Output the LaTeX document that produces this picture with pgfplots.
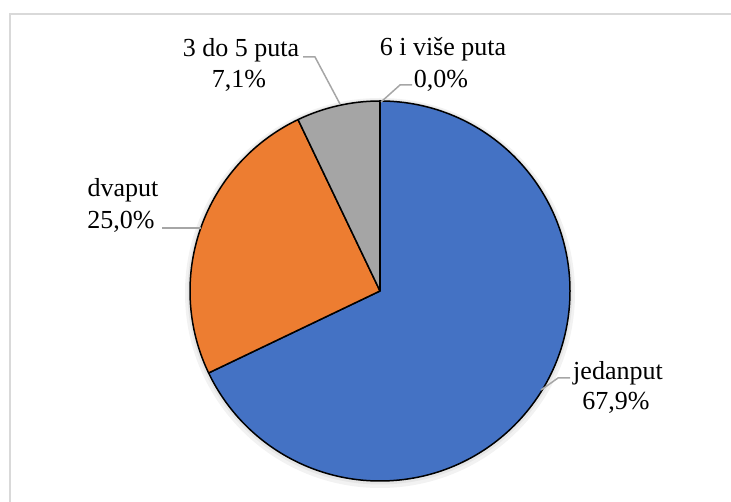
\documentclass[border=0pt]{standalone}
\usepackage{pgfplots}
\pgfplotsset{compat=1.18}
\usepackage{pgfplotstable}
\usepackage{fontspec}
\setmainfont{Liberation Serif}
\definecolor{pblue}{HTML}{4472C4}
\definecolor{porange}{HTML}{ED7D31}
\definecolor{pgray}{HTML}{A5A5A5}
\definecolor{lead}{HTML}{A6A6A6}
\definecolor{frame}{HTML}{D9D9D9}

\pgfplotstableread{
idx value
0 67.9
1 25.0
2 7.1
3 0.0
}\piedata
\pgfplotstablegetelem{0}{value}\of\piedata \pgfmathsetmacro\va{\pgfplotsretval}%
\pgfplotstablegetelem{1}{value}\of\piedata \pgfmathsetmacro\vb{\pgfplotsretval}%
\pgfplotstablegetelem{2}{value}\of\piedata \pgfmathsetmacro\vc{\pgfplotsretval}%
\pgfplotstablegetelem{3}{value}\of\piedata \pgfmathsetmacro\vd{\pgfplotsretval}%
\pgfmathsetmacro\aA{90}%
\pgfmathsetmacro\aB{\aA-3.6*\va}%
\pgfmathsetmacro\aC{\aB-3.6*\vb}%
\pgfmathsetmacro\aD{\aC-3.6*\vc}%
\pgfmathsetmacro\aE{\aD-3.6*\vd}%

\begin{document}
\begin{tikzpicture}
\begin{axis}[
  scale only axis, width=731pt, height=502pt,
  xmin=0, xmax=731, ymin=0, ymax=502,
  hide axis, clip=false,
]
% frame
\draw[frame, line width=2pt] (axis cs:9.5,0) -- (axis cs:9.5,488) -- (axis cs:731,488);
% shadow
\fill[black, opacity=0.05] (axis cs:380,209) circle[radius=195pt];
\fill[black, opacity=0.05] (axis cs:380,210) circle[radius=192.5pt];
% slices
\filldraw[fill=pblue, draw=black, line width=1.5pt, line join=round]
  (axis cs:380,211) -- ++(\aA:190pt) arc[start angle=\aA, end angle=\aB, radius=190pt] -- cycle;
\filldraw[fill=porange, draw=black, line width=1.5pt, line join=round]
  (axis cs:380,211) -- ++(\aB:190pt) arc[start angle=\aB, end angle=\aC, radius=190pt] -- cycle;
\filldraw[fill=pgray, draw=black, line width=1.5pt, line join=round]
  (axis cs:380,211) -- ++(\aC:190pt) arc[start angle=\aC, end angle=\aD, radius=190pt] -- cycle;
\draw[black, line width=1.5pt] (axis cs:380,211) -- ++(\aD:190pt);
% leader lines
\draw[lead, line width=1.5pt] (axis cs:303,445) -- (axis cs:315,445) -- (axis cs:340,398);
\draw[lead, line width=1.5pt] (axis cs:412,417) -- (axis cs:400,417) -- (axis cs:381,400);
\draw[lead, line width=1.5pt] (axis cs:162,274) -- (axis cs:201,274);
\draw[lead, line width=1.5pt] (axis cs:570,124) -- (axis cs:558,124) -- (axis cs:541,112);
% labels
\begin{scope}[every node/.style={font=\fontsize{26}{31}\selectfont, inner sep=0pt, anchor=base}]
\node at (axis cs:241,445) {3 do 5 puta};
\node at (axis cs:239,414) {7,1\%};
\node at (axis cs:443,446) {6 i više puta};
\node at (axis cs:441,414) {0,0\%};
\node at (axis cs:123,305) {dvaput};
\node at (axis cs:121,273) {25,0\%};
\node at (axis cs:618,122) {jedanput};
\node at (axis cs:616,92) {67,9\%};
\end{scope}
\end{axis}
\pgfresetboundingbox
\path[use as bounding box] (current axis.south west) rectangle (current axis.north east);
\end{tikzpicture}
\end{document}
